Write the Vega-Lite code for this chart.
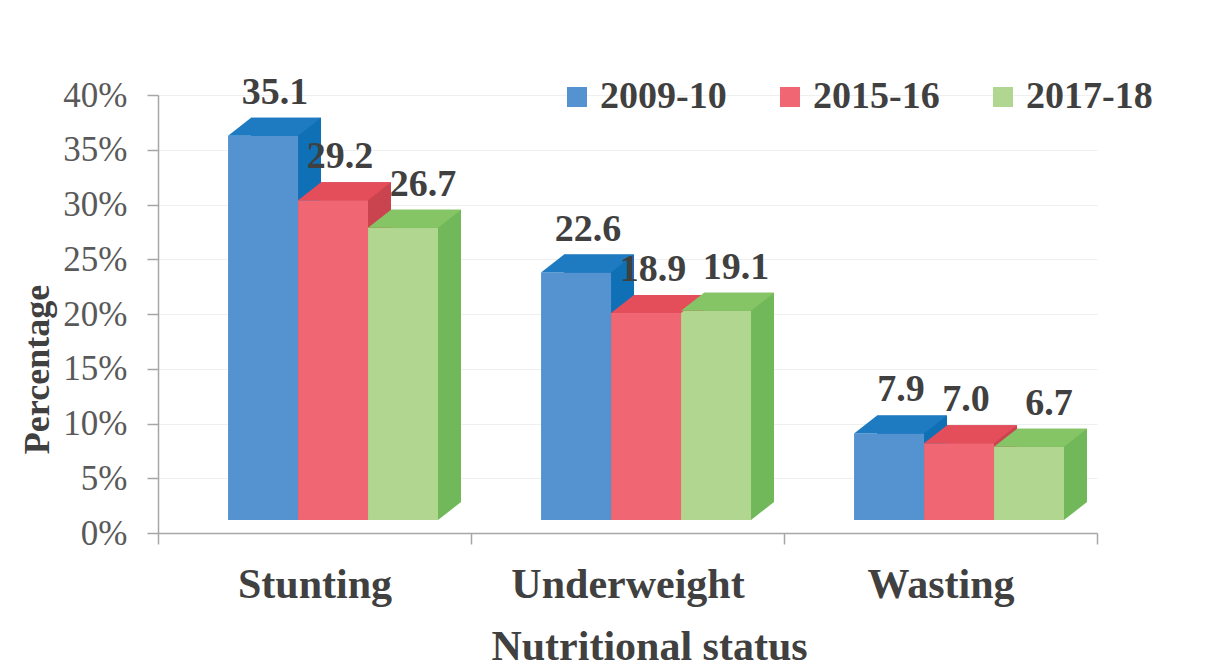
{
  "$schema": "https://vega.github.io/schema/vega-lite/v6.json",
  "width": 939,
  "height": 438,
  "autosize": {"type": "none"},
  "padding": {"left": 158, "top": 95, "right": 112, "bottom": 138},
  "background": "white",
  "config": {"view": {"stroke": null}, "font": "Liberation Serif"},
  "data": {
    "values": [
      {"status": "Stunting", "year": "2009-10", "pct": 35.1},
      {"status": "Stunting", "year": "2015-16", "pct": 29.2},
      {"status": "Stunting", "year": "2017-18", "pct": 26.7},
      {"status": "Underweight", "year": "2009-10", "pct": 22.6},
      {"status": "Underweight", "year": "2015-16", "pct": 18.9},
      {"status": "Underweight", "year": "2017-18", "pct": 19.1},
      {"status": "Wasting", "year": "2009-10", "pct": 7.9},
      {"status": "Wasting", "year": "2015-16", "pct": 7.0},
      {"status": "Wasting", "year": "2017-18", "pct": 6.7}
    ]
  },
  "encoding": {
    "x": {
      "field": "status", "type": "nominal",
      "sort": ["Stunting", "Underweight", "Wasting"],
      "scale": {"paddingInner": 0, "paddingOuter": 0},
      "axis": {
        "title": "Nutritional status", "tickBand": "extent", "labelAngle": 0, "labelLimit": 500,
        "labelFont": "Liberation Serif", "labelFontSize": 42, "labelFontWeight": "bold", "labelColor": "#404040",
        "labelPadding": 20, "tickSize": 11, "tickColor": "#a6a6a6", "tickWidth": 1.5,
        "domainColor": "#a6a6a6", "domainWidth": 1.5,
        "titleFont": "Liberation Serif", "titleFontSize": 42, "titleFontWeight": "bold", "titleColor": "#404040",
        "titleX": 491, "titleY": 126, "titleBaseline": "alphabetic", "titleAlign": "center",
        "grid": false
      }
    },
    "y": {
      "field": "pct", "type": "quantitative", "stack": null,
      "scale": {"domain": [0, 40], "nice": false},
      "axis": {
        "values": [0, 5, 10, 15, 20, 25, 30, 35, 40],
        "labelExpr": "datum.value + '%'",
        "title": "Percentage",
        "titleFont": "Liberation Serif", "titleFontSize": 36, "titleFontWeight": "bold", "titleColor": "#404040",
        "titleX": -121, "titleY": 274, "titleAngle": -90, "titleAlign": "center", "titleBaseline": "middle",
        "labelFont": "Liberation Serif", "labelFontSize": 35, "labelColor": "#595959", "labelPadding": 20,
        "tickSize": 11, "tickColor": "#a6a6a6", "tickWidth": 1.5,
        "domainColor": "#a6a6a6", "domainWidth": 1.5,
        "grid": true, "gridColor": "#efefef"
      }
    }
  },
  "layer": [
    {
      "mark": {"type": "bar", "yOffset": -31, "y2Offset": -31},
      "encoding": {
        "xOffset": {
          "field": "year", "type": "nominal",
          "sort": ["2009-10", "2015-16", "2017-18"],
          "scale": {"paddingInner": 0, "paddingOuter": 0.736, "align": 0.903}
        },
        "y2": {"datum": 0},
        "color": {"field": "year", "type": "nominal", "legend": null,
          "scale": {"domain": ["2009-10", "2015-16", "2017-18"], "range": ["#1070b5", "#c9444f", "#70b85a"]}}
      }
    },
    {
      "layer": [
        {
          "mark": {"type": "point", "shape": "M -0.7 0 L 0.7 0 L 1.16 -0.36 L -0.24 -0.36 Z", "size": 10000, "filled": true, "opacity": 1, "strokeWidth": 0, "yOffset": -13},
          "encoding": {
            "y": {"datum": 0},
            "color": {"field": "year", "type": "nominal", "legend": null,
              "scale": {"domain": ["2009-10", "2015-16", "2017-18"], "range": ["#1070b5", "#c9444f", "#70b85a"]}}
          }
        },
        {
          "mark": {"type": "bar", "yOffset": -13, "y2Offset": -13},
          "encoding": {
            "y2": {"datum": 0},
            "color": {"field": "year", "type": "nominal",
              "scale": {"domain": ["2009-10", "2015-16", "2017-18"], "range": ["#5592d0", "#f06672", "#b1d68f"]},
              "legend": {
                "orient": "none", "legendX": 400, "legendY": -17, "direction": "horizontal", "title": null,
                "symbolType": "square", "symbolSize": 400, "symbolStrokeWidth": 0,
                "labelFont": "Liberation Serif", "labelFontWeight": "bold", "labelFontSize": 38, "labelColor": "#404040",
                "columnPadding": 44, "labelOffset": 4, "labelLimit": 300
              }
            }
          }
        },
        {
          "mark": {"type": "point", "shape": "M -0.7 0 L 0.7 0 L 1.16 -0.36 L -0.24 -0.36 Z", "size": 10000, "filled": true, "opacity": 1, "strokeWidth": 0, "yOffset": -13},
          "encoding": {
            "color": {"field": "year", "type": "nominal", "legend": null,
              "scale": {"domain": ["2009-10", "2015-16", "2017-18"], "range": ["#1e7bc1", "#e44d5a", "#86c565"]}}
          }
        },
        {
          "transform": [{"filter": "datum.year == '2009-10'"}],
          "mark": {"type": "text", "dx": 12, "dy": -56, "baseline": "middle", "align": "center", "font": "Liberation Serif", "fontSize": 38, "fontWeight": "bold", "color": "#404040"},
          "encoding": {
            "text": {"field": "pct", "type": "quantitative", "format": ".1f"}
          }
        },
        {
          "transform": [{"filter": "datum.year == '2015-16'"}],
          "mark": {"type": "text", "dx": 7, "dy": -56, "baseline": "middle", "align": "center", "font": "Liberation Serif", "fontSize": 38, "fontWeight": "bold", "color": "#404040"},
          "encoding": {
            "text": {"field": "pct", "type": "quantitative", "format": ".1f"}
          }
        },
        {
          "transform": [{"filter": "datum.year == '2017-18'"}],
          "mark": {"type": "text", "dx": 20, "dy": -56, "baseline": "middle", "align": "center", "font": "Liberation Serif", "fontSize": 38, "fontWeight": "bold", "color": "#404040"},
          "encoding": {
            "text": {"field": "pct", "type": "quantitative", "format": ".1f"}
          }
        }
      ],
      "encoding": {
        "xOffset": {
          "field": "year", "type": "nominal",
          "sort": ["2009-10", "2015-16", "2017-18"],
          "scale": {"paddingInner": 0, "paddingOuter": 0.736, "align": 0.68}
        }
      },
      "resolve": {"scale": {"color": "independent"}}
    }
  ],
  "resolve": {"scale": {"color": "independent", "xOffset": "independent"}}
}
